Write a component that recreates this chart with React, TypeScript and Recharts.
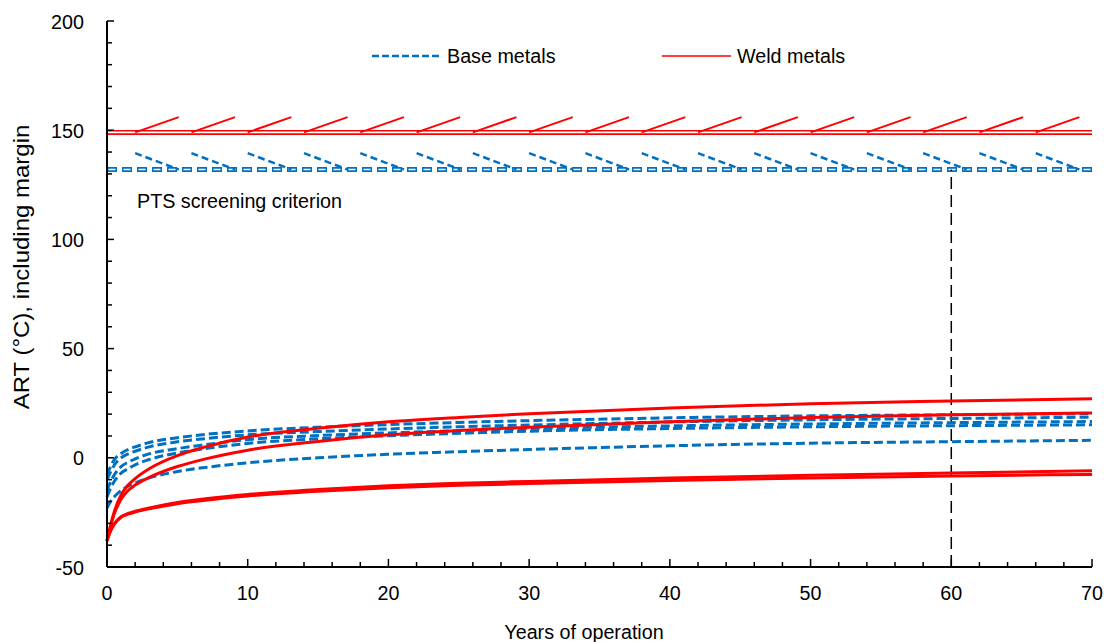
import React from 'react';
import { LineChart, Line, XAxis, YAxis, ReferenceLine } from 'recharts';

// years of operation (shared x values for every curve)
const years = [0, 0.25, 0.5, 1, 1.5, 2, 3, 5, 7, 10, 15, 20, 25, 30, 40, 50, 60, 70];

// base metals (blue dashed)
const base1 = [-8, -4, -1, 2, 3.8, 5, 7, 9.2, 10.7, 12.3, 14, 15.2, 16.2, 17, 18.3, 19.2, 19.7, 20.2];
const base2 = [-10, -6.5, -3.5, 0, 1.8, 3, 5, 7.3, 8.8, 10.5, 12, 13.2, 14.2, 15, 16.4, 17.4, 18, 18.6];
const base3 = [-15, -11, -8, -4, -2, -0.5, 1.8, 4.2, 6, 8.3, 10.2, 11.4, 12.4, 13.4, 14.6, 15.5, 16.1, 16.6];
const base4 = [-18, -14, -11, -7, -5, -3.2, -0.8, 2.2, 4.2, 6.6, 8.7, 10.1, 11.2, 12.2, 13.4, 14.2, 14.7, 15.1];
const base5 = [-23, -20, -18, -15, -13, -11.5, -9.2, -6.3, -4.4, -2.3, 0, 1.6, 2.8, 3.8, 5.5, 6.7, 7.4, 8];

// weld metals (red solid)
const weld1 = [-38, -31, -25, -17, -12.5, -9.5, -5, 1, 5, 9.5, 13.5, 16.5, 18.5, 20.2, 22.8, 24.8, 26, 27];
const weld2 = [-38, -31.5, -26, -19, -15, -12.5, -9, -4, -0.5, 3.5, 7.5, 10.5, 12.5, 14, 16.5, 18.5, 19.7, 20.5];
const weld3 = [-38, -33.5, -30.5, -27, -25.5, -24.5, -23, -20.5, -18.8, -16.8, -14.5, -12.8, -11.7, -10.8, -9.3, -8, -7, -5.9];
const weld4 = [-38, -33.5, -30.5, -27.2, -25.8, -24.8, -23.4, -21, -19.4, -17.5, -15.3, -13.7, -12.6, -11.8, -10.4, -9.2, -8.3, -7.6];

// PTS screening criteria
const weldCriterion = 149;
const baseCriterion = 132;
const hatchStarts = [2, 6, 10, 14, 18, 22, 26, 30, 34, 38, 42, 46, 50, 54, 58, 62, 66];
const hatchLength = 3.1;
const weldHatchTop = 156;
const baseHatchTop = 139.5;
const markerYear = 60;

const xTicks = [0, 2, 4, 6, 8, 10, 12, 14, 16, 18, 20, 22, 24, 26, 28, 30, 32, 34, 36, 38, 40, 42, 44, 46, 48, 50, 52, 54, 56, 58, 60, 62, 64, 66, 68, 70];
const yTicks = [-50, -40, -30, -20, -10, 0, 10, 20, 30, 40, 50, 60, 70, 80, 90, 100, 110, 120, 130, 140, 150, 160, 170, 180, 190, 200];

const BLUE = '#0070C0';
const RED = '#FF0000';
const FONT = "'Liberation Sans', Arial, sans-serif";

const seriesKeys = ['base1', 'base2', 'base3', 'base4', 'base5', 'weld1', 'weld2', 'weld3', 'weld4'];
const seriesVals = [base1, base2, base3, base4, base5, weld1, weld2, weld3, weld4];

const data = years.map((year, i) => {
  const row: any = { year };
  seriesKeys.forEach((k, j) => (row[k] = seriesVals[j][i]));
  return row;
});

// slightly condensed text, like the original export
const Label = ({ x, y, anchor = 'start', children }: any) => (
  <text
    transform={`translate(${x} ${y}) scale(0.94 1)`}
    x={0}
    y={0}
    textAnchor={anchor}
    fontSize={21}
    fontFamily={FONT}
    fill="#000"
  >
    {children}
  </text>
);

const XTick = (props: any) => {
  const { x, y, payload } = props;
  const major = payload.value % 10 === 0;
  return (
    <g>
      <line x1={x} x2={x} y1={y} y2={y - (major ? 8 : 5)} stroke="#000" strokeWidth={1.5} />
      {major && (
        <Label x={x} y={y + 33} anchor="middle">
          {payload.value}
        </Label>
      )}
    </g>
  );
};

const YTick = (props: any) => {
  const { x, y, payload } = props;
  const major = payload.value % 50 === 0;
  return (
    <g>
      <line x1={x} x2={x + (major ? 7 : 5)} y1={y} y2={y} stroke="#000" strokeWidth={1.5} />
      {major && (
        <Label x={x - 23} y={y + 7.5} anchor="end">
          {payload.value}
        </Label>
      )}
    </g>
  );
};

export default function App() {
  return (
    <div style={{ position: 'absolute', left: 0, top: 0, background: '#fff' }}>
      <LineChart
        width={1104}
        height={642}
        data={data}
        margin={{ top: 21, right: 12, bottom: 45, left: 47 }}
      >
        <XAxis
          dataKey="year"
          type="number"
          domain={[0, 70]}
          ticks={xTicks}
          interval={0}
          height={30}
          tickSize={0}
          tickMargin={0}
          tickLine={false}
          axisLine={{ stroke: '#000', strokeWidth: 2 }}
          tick={<XTick />}
        />
        <YAxis
          type="number"
          domain={[-50, 200]}
          ticks={yTicks}
          interval={0}
          width={60}
          tickSize={0}
          tickMargin={0}
          tickLine={false}
          axisLine={{ stroke: '#000', strokeWidth: 2 }}
          tick={<YTick />}
        />

        {/* criterion lines, drawn as outlined double lines */}
        <ReferenceLine y={weldCriterion} stroke={RED} strokeWidth={5} />
        <ReferenceLine y={weldCriterion} stroke="#fff" strokeWidth={1.8} />
        <ReferenceLine y={baseCriterion} stroke={BLUE} strokeWidth={5} strokeDasharray="10 5" />
        <ReferenceLine
          y={baseCriterion}
          stroke="#fff"
          strokeWidth={1.6}
          strokeDasharray="7 8"
          strokeDashoffset={-1.5}
        />

        {hatchStarts.map((s) => (
          <ReferenceLine
            key={'w' + s}
            segment={[
              { x: s, y: weldCriterion },
              { x: s + hatchLength, y: weldHatchTop },
            ]}
            stroke={RED}
            strokeWidth={2}
          />
        ))}
        {hatchStarts.map((s) => (
          <ReferenceLine
            key={'b' + s}
            segment={[
              { x: s, y: baseHatchTop },
              { x: s + hatchLength, y: baseCriterion },
            ]}
            stroke={BLUE}
            strokeWidth={2.5}
            strokeDasharray="7 4"
          />
        ))}

        <ReferenceLine
          segment={[
            { x: markerYear, y: -50 },
            { x: markerYear, y: baseCriterion },
          ]}
          stroke="#000"
          strokeWidth={1.5}
          strokeDasharray="12 6"
        />

        {['base1', 'base2', 'base3', 'base4', 'base5'].map((k) => (
          <Line
            key={k}
            dataKey={k}
            type="monotone"
            stroke={BLUE}
            strokeWidth={3}
            strokeDasharray="9 4"
            dot={false}
            isAnimationActive={false}
          />
        ))}
        {['weld1', 'weld2', 'weld3', 'weld4'].map((k) => (
          <Line
            key={k}
            dataKey={k}
            type="monotone"
            stroke={RED}
            strokeWidth={3}
            dot={false}
            isAnimationActive={false}
          />
        ))}

        {/* legend */}
        <line x1={372} x2={441} y1={56} y2={56} stroke={BLUE} strokeWidth={2.5} strokeDasharray="7 3" />
        <Label x={447} y={63}>Base metals</Label>
        <line x1={662} x2={731} y1={56} y2={56} stroke={RED} strokeWidth={1.5} />
        <Label x={737} y={63}>Weld metals</Label>

        <Label x={137} y={208}>PTS screening criterion</Label>

        <Label x={584} y={639} anchor="middle">
          Years of operation
        </Label>
        <text
          transform="rotate(-90) scale(1 0.92)"
          x={-267}
          y={32}
          textAnchor="middle"
          fontSize={24}
          fontFamily={FONT}
          fill="#000"
        >
          ART (°C), including margin
        </text>
      </LineChart>
    </div>
  );
}
